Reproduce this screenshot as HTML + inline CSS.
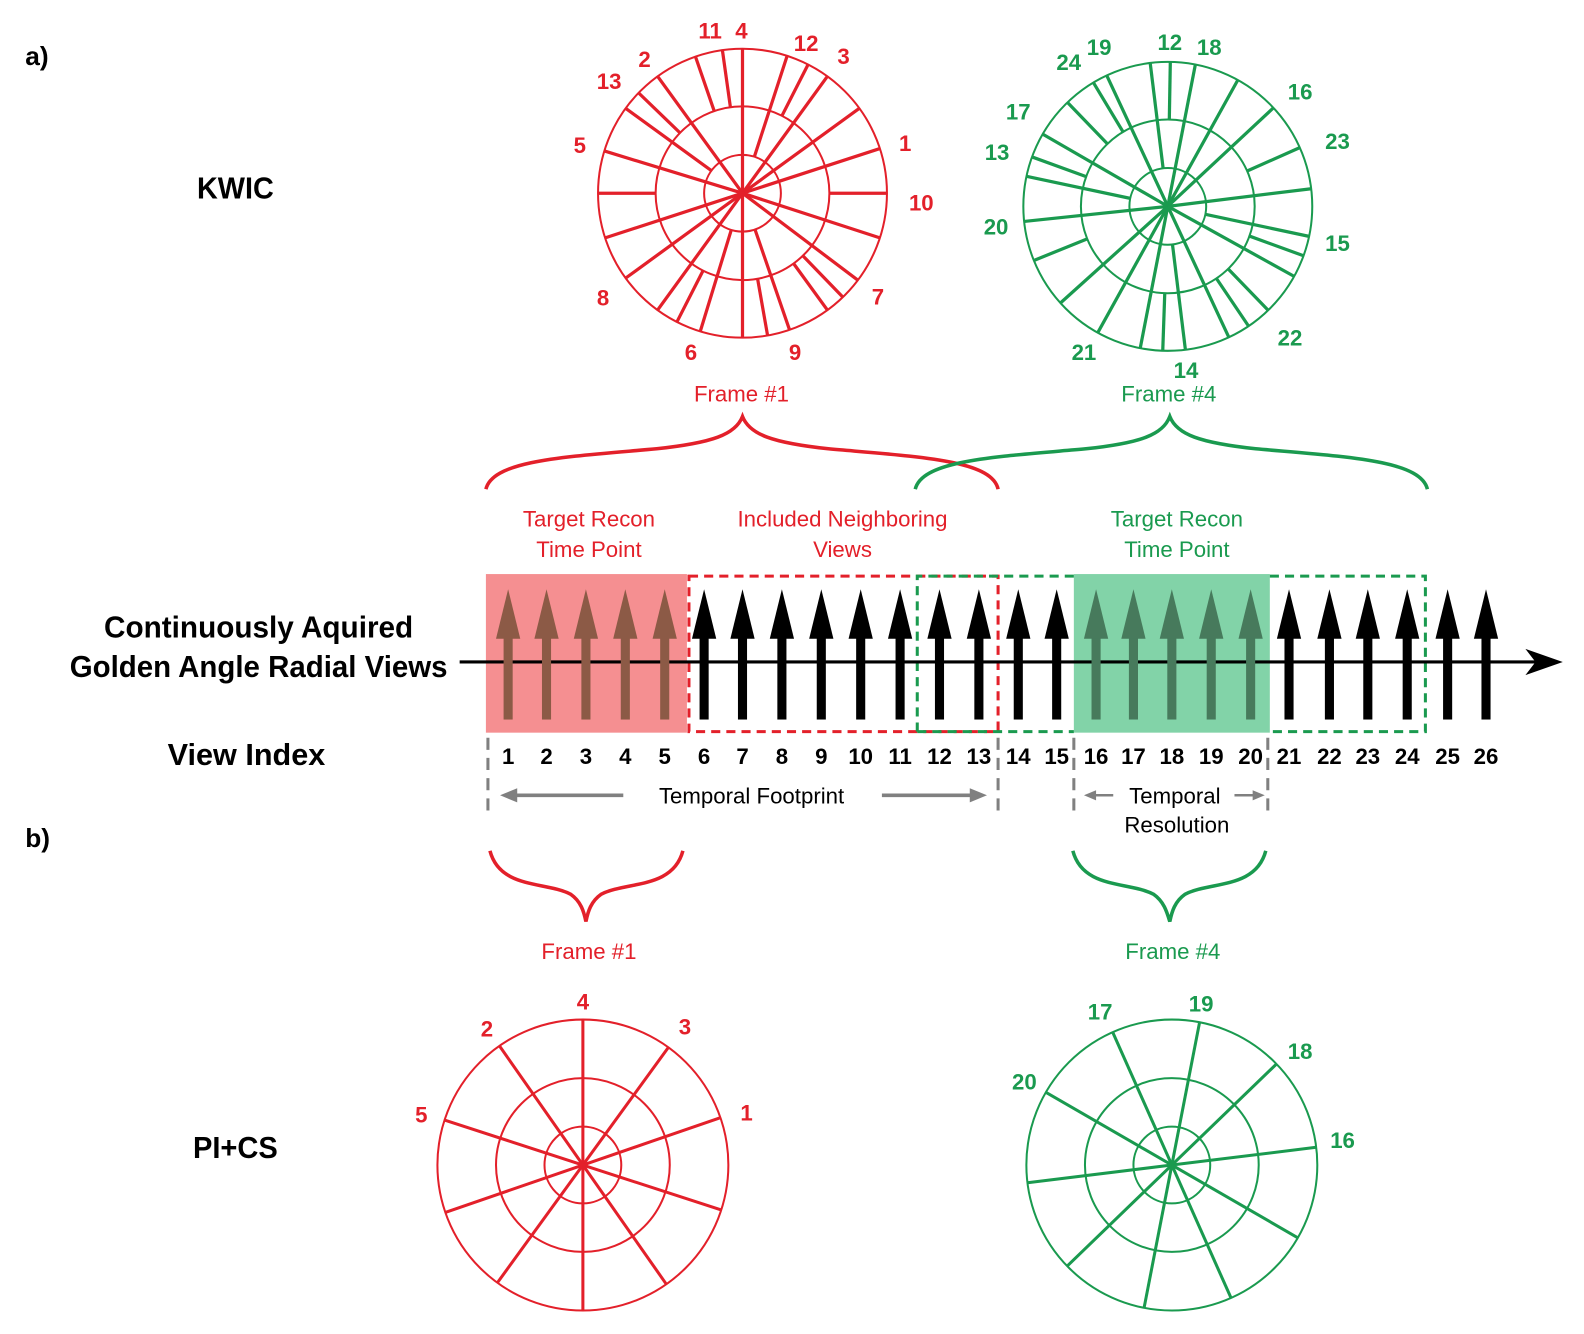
<!DOCTYPE html>
<html><head><meta charset="utf-8"><style>
html,body{margin:0;padding:0;background:#fff;}
svg{display:block;}
text{font-family:"Liberation Sans",sans-serif;font-weight:bold;}
</style></head><body>
<svg id="s" width="1584" height="1334" viewBox="0 0 1568 1320" xmlns="http://www.w3.org/2000/svg">
<rect width="1568" height="1320" fill="#fff"/>
<g id="circ"></g>
<text x="25" y="64" font-size="26">a)</text>
<text x="25" y="838" font-size="26">b)</text>
<text x="233" y="196" font-size="30" text-anchor="middle" textLength="76" lengthAdjust="spacingAndGlyphs">KWIC</text>
<text x="256" y="631" font-size="30" text-anchor="middle" textLength="306" lengthAdjust="spacingAndGlyphs">Continuously Aquired</text>
<text x="256" y="670" font-size="30" text-anchor="middle" textLength="374" lengthAdjust="spacingAndGlyphs">Golden Angle Radial Views</text>
<text x="244" y="757" font-size="30" text-anchor="middle" textLength="156" lengthAdjust="spacingAndGlyphs">View Index</text>
<text x="233" y="1146" font-size="30" text-anchor="middle" textLength="84" lengthAdjust="spacingAndGlyphs">PI+CS</text>

<g fill="#e3202a" font-size="22" text-anchor="middle">
<text x="703" y="38">11</text><text x="734" y="38">4</text><text x="798" y="50">12</text><text x="835" y="63">3</text>
<text x="638" y="66">2</text><text x="603" y="88">13</text><text x="574" y="151">5</text><text x="896" y="149">1</text>
<text x="912" y="208">10</text><text x="597" y="302">8</text><text x="869" y="301">7</text><text x="684" y="356">6</text><text x="787" y="356">9</text>
<text x="734" y="397" style="font-weight:normal">Frame #1</text>
<text x="583" y="521" style="font-weight:normal">Target Recon</text><text x="583" y="551" style="font-weight:normal">Time Point</text>
<text x="834" y="521" style="font-weight:normal">Included Neighboring</text><text x="834" y="551" style="font-weight:normal">Views</text>
<text x="583" y="949" style="font-weight:normal">Frame #1</text>
<text x="577" y="999">4</text><text x="482" y="1026">2</text><text x="678" y="1024">3</text><text x="417" y="1111">5</text><text x="739" y="1109">1</text>
</g>
<g fill="#1a9a4f" font-size="22" text-anchor="middle">
<text x="1058" y="69">24</text><text x="1088" y="54">19</text><text x="1158" y="49">12</text><text x="1197" y="54">18</text>
<text x="1287" y="98">16</text><text x="1008" y="118">17</text><text x="1324" y="147">23</text><text x="987" y="158">13</text>
<text x="986" y="232">20</text><text x="1324" y="248">15</text><text x="1277" y="342">22</text><text x="1073" y="356">21</text><text x="1174" y="374">14</text>
<text x="1157" y="397" style="font-weight:normal">Frame #4</text>
<text x="1165" y="521" style="font-weight:normal">Target Recon</text><text x="1165" y="551" style="font-weight:normal">Time Point</text>
<text x="1161" y="949" style="font-weight:normal">Frame #4</text>
<text x="1089" y="1009">17</text><text x="1189" y="1001">19</text><text x="1287" y="1048">18</text><text x="1014" y="1078">20</text><text x="1329" y="1136">16</text>
</g>

<g fill="none" stroke-width="3.5">
<path stroke="#e3202a" d="M481,484 C488,455 560,452 650,444 C705,438 728,430 735,412 C742,430 765,438 820,444 C910,452 982,455 988,484"/>
<path stroke="#1a9a4f" d="M906,484 C913,455 985,452 1075,444 C1130,438 1151,430 1158,412 C1165,430 1188,438 1243,444 C1333,452 1406,455 1413,484"/>
<path stroke="#e3202a" d="M485,842 C495,880 540,872 565,885 C575,892 578,902 580,912 C582,902 585,892 595,885 C620,872 666,880 676,842"/>
<path stroke="#1a9a4f" d="M1062,842 C1072,880 1117,872 1142,885 C1152,892 1155,902 1158,912 C1160,902 1163,892 1173,885 C1198,872 1243,880 1253,842"/>
</g>

<rect x="481" y="568" width="199" height="157" fill="#f58f91"/>
<rect x="1063" y="568" width="194" height="157" fill="#82d3a8"/>
<rect x="682" y="570" width="306" height="154" fill="none" stroke="#e3202a" stroke-width="3" stroke-dasharray="9,6"/>
<path d="M908,724 V570 H1063 M908,724 H1063 M1257,570 H1411 V724 H1257" fill="none" stroke="#1a9a4f" stroke-width="3" stroke-dasharray="9,6"/>
<line x1="455" y1="655" x2="1520" y2="655" stroke="#000" stroke-width="3"/>
<path d="M1547,655 L1510,642 L1520,655 L1510,668 Z" fill="#000"/>
<g id="arrows"></g>
<g id="nums" font-size="22" text-anchor="middle" fill="#000"></g>

<g stroke="#808080" stroke-width="3" stroke-dasharray="12,8" fill="none">
<line x1="483" y1="730" x2="483" y2="808"/><line x1="988" y1="730" x2="988" y2="808"/>
<line x1="1063" y1="730" x2="1063" y2="808"/><line x1="1255" y1="730" x2="1255" y2="808"/>
</g>
<g stroke="#808080" stroke-width="3.5" fill="#808080">
<line x1="617" y1="787" x2="505" y2="787"/><path d="M495,787 L512,780 L512,794Z" stroke="none"/>
<line x1="873" y1="787" x2="965" y2="787"/><path d="M977,787 L960,780 L960,794Z" stroke="none"/>
<line x1="1102" y1="787" x2="1082" y2="787" stroke-width="2.5"/><path d="M1073,787 L1085,782 L1085,792Z" stroke="none"/>
<line x1="1222" y1="787" x2="1243" y2="787" stroke-width="2.5"/><path d="M1252,787 L1240,782 L1240,792Z" stroke="none"/>
</g>
<g font-size="22" text-anchor="middle" fill="#000">
<text x="744" y="795" style="font-weight:normal">Temporal Footprint</text>
<text x="1163" y="795" style="font-weight:normal">Temporal</text>
<text x="1165" y="824" style="font-weight:normal">Resolution</text>
</g>
</svg>
<script>
(function(){
var NS="http://www.w3.org/2000/svg";
var circ=document.getElementById("circ");
function el(tag,attrs,parent){var e=document.createElementNS(NS,tag);for(var k in attrs)e.setAttribute(k,attrs[k]);(parent||circ).appendChild(e);return e;}
function wheel(cx,cy,R,rm,ri,col,spokes,sw){
  [R,rm,ri].forEach(function(r){el("circle",{cx:cx,cy:cy,r:r,fill:"none",stroke:col,"stroke-width":2});});
  spokes.forEach(function(s){
    var a=s[0]*Math.PI/180, rs=s[1]==0?0:(s[1]==1?ri:rm);
    var dx=Math.cos(a),dy=-Math.sin(a);
    el("line",{x1:cx+rs*dx,y1:cy+rs*dy,x2:cx+R*dx,y2:cy+R*dy,stroke:col,"stroke-width":sw});
  });
}
var red="#e3202a",green="#1a9a4f";
wheel(735,191,143,86,38,red,[
[90,0],[98,2],[109,2],[126,0],[136,2],[144,1],[163,0],[180,2],[72,1],[63,2],[54,0],[36,0],[18,0],[0,2],
[-18,0],[-37,0],[-46,2],[-54,2],[-71,1],[-80,2],[-90,0],[-107,1],[-117,2],[-126,0],[-144,0],[-162,0]],3.2);
wheel(1156,204,143,86,38,green,[
[97,1],[89,2],[79,0],[61,0],[43,0],[24,2],[7,0],[115,0],[121,2],[134,2],[150,0],[160,2],[168,1],[186,0],
[202,2],[222,0],[241,0],[259,0],[268,2],[277,1],[295,0],[304,2],[314,2],[331,0],[340,2],[348,1]],3.2);
wheel(577,1153,144,86,38,red,[[90,0],[270,0],[19,0],[199,0],[54,0],[234,0],[125,0],[305,0],[162,0],[342,0]],3);
wheel(1160,1153,144,86,38,green,[[7,0],[187,0],[44,0],[224,0],[79,0],[259,0],[114,0],[294,0],[150,0],[330,0]],3);
var xs=[503,541,580,619,658,697,735,774,813,852,891,930,969,1008,1046,1085,1122,1160,1199,1238,1276,1316,1354,1393,1433,1471];
var ag=document.getElementById("arrows"),ng=document.getElementById("nums");
xs.forEach(function(x,i){
  var c="#000";
  if(i<5)c="#8c5a46"; else if(i>=15&&i<20)c="#477a5c";
  el("rect",{x:x-4.5,y:628,width:9,height:84,fill:c},ag);
  el("path",{d:"M"+x+",583 L"+(x-12)+",632 L"+(x+12)+",632Z",fill:c},ag);
  var t=el("text",{x:x,y:756},ng);t.textContent=String(i+1);
});
})();
</script>
</body></html>
